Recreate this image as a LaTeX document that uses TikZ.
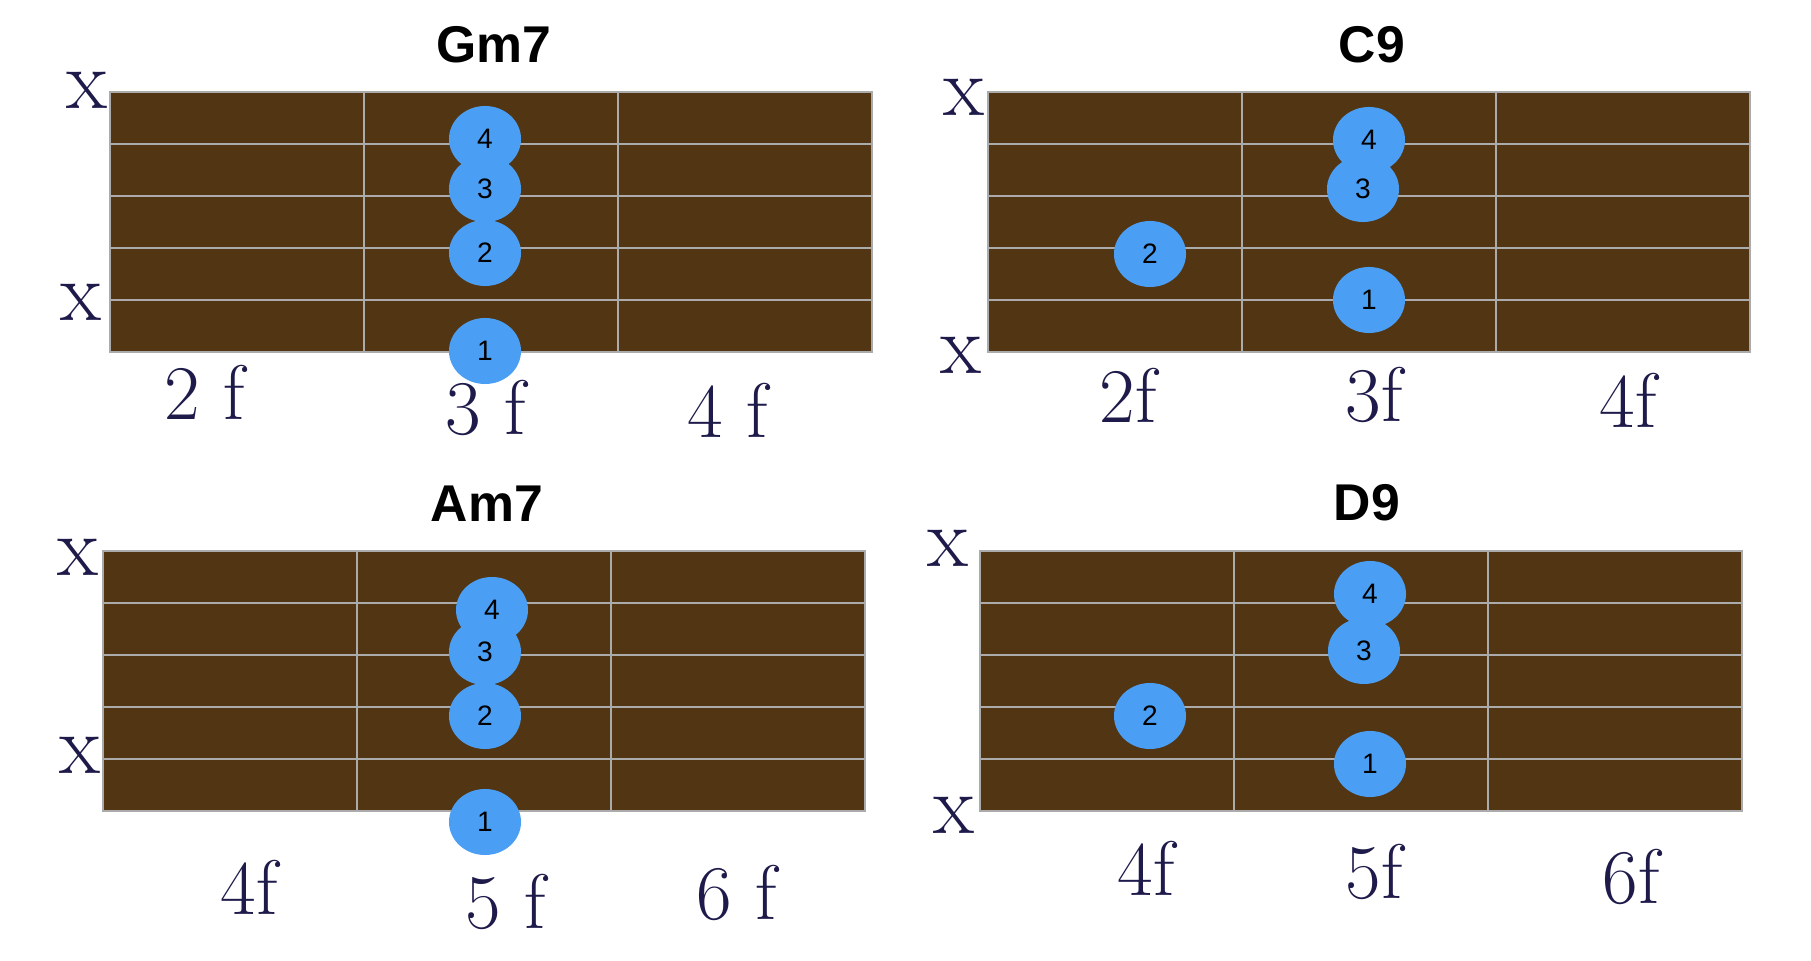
\documentclass[tikz,border=0pt]{standalone}
\usepackage{fontspec}
\newfontfamily\chordfont{Liberation Sans}
\usetikzlibrary{shapes.geometric}
\definecolor{neck}{HTML}{523512}
\definecolor{fretline}{HTML}{ABABAB}
\definecolor{fingerblue}{HTML}{4A9FF5}
\definecolor{penink}{HTML}{1E1B4B}
\tikzset{
  board/.style={fill=neck, draw=fretline, line width=0.45pt},
  wire/.style={draw=fretline, line width=0.45pt},
  finger/.style={ellipse, fill=fingerblue, minimum width=0.72cm, minimum height=0.66cm, inner sep=0pt, font=\chordfont\fontsize{8}{9}\selectfont},
  chordname/.style={font=\chordfont\bfseries\fontsize{14.7}{17}\selectfont},
  muted/.style={text=penink, font=\fontsize{24}{26}\selectfont},
  fretno/.style={text=penink, font=\fontsize{22}{24}\selectfont},
}
\begin{document}
\begin{tikzpicture}[x=0.01cm, y=-0.01cm]
	\useasboundingbox (0,0) rectangle (1811,961);
	
	% Gm7
	\begin{scope}[shift={(110,92)}]
		\draw[board] (0,0) rectangle (762,260);
		\foreach \s in {52,104,156,208} \draw[wire] (0,\s) -- (762,\s);
		\foreach \f in {254,508} \draw[wire] (\f,0) -- (\f,260);
		\node[chordname] (gmname) at (384,-47) {Gm7};
		\node[finger] (gm4) at (375,47) {4};
		\node[finger] (gm3) at (375,97) {3};
		\node[finger] (gm2) at (375,161) {2};
		\node[finger] (gm1) at (375,259) {1};
		\node[muted] (gmxa) at (-23,-2) {x};
		\node[muted] (gmxb) at (-29,210) {x};
		\node[fretno] (gmf2) at (95,300) {2 f};
		\node[fretno] (gmf3) at (376,316) {3 f};
		\node[fretno] (gmf4) at (618,318) {4 f};
	\end{scope}
	
	% C9
	\begin{scope}[shift={(988,92)}]
		\draw[board] (0,0) rectangle (762,260);
		\foreach \s in {52,104,156,208} \draw[wire] (0,\s) -- (762,\s);
		\foreach \f in {254,508} \draw[wire] (\f,0) -- (\f,260);
		\node[chordname] (cname) at (384,-47) {C9};
		\node[finger] (c4) at (381,48) {4};
		\node[finger] (c3) at (375,97) {3};
		\node[finger] (c2) at (162,162) {2};
		\node[finger] (c1) at (381,208) {1};
		\node[muted] (cxa) at (-24,5) {x};
		\node[muted] (cxb) at (-27,263) {x};
		\node[fretno] (cf2) at (140,303) {2f};
		\node[fretno] (cf3) at (386,303) {3f};
		\node[fretno] (cf4) at (640,308) {4f};
	\end{scope}
	
	% Am7
	\begin{scope}[shift={(103,551)}]
		\draw[board] (0,0) rectangle (762,260);
		\foreach \s in {52,104,156,208} \draw[wire] (0,\s) -- (762,\s);
		\foreach \f in {254,508} \draw[wire] (\f,0) -- (\f,260);
		\node[chordname] (amname) at (384,-47) {Am7};
		\node[finger] (am4) at (389,59) {4};
		\node[finger] (am3) at (382,101) {3};
		\node[finger] (am2) at (382,165) {2};
		\node[finger] (am1) at (382,271) {1};
		\node[muted] (amxa) at (-25,6) {x};
		\node[muted] (amxb) at (-23,204) {x};
		\node[fretno] (amf4) at (146,336) {4f};
		\node[fretno] (amf5) at (403,351) {5 f};
		\node[fretno] (amf6) at (634,342) {6 f};
	\end{scope}
	
	% D9
	\begin{scope}[shift={(980,551)}]
		\draw[board] (0,0) rectangle (762,260);
		\foreach \s in {52,104,156,208} \draw[wire] (0,\s) -- (762,\s);
		\foreach \f in {254,508} \draw[wire] (\f,0) -- (\f,260);
		\node[chordname] (dname) at (387,-48) {D9};
		\node[finger] (d4) at (390,43) {4};
		\node[finger] (d3) at (384,100) {3};
		\node[finger] (d2) at (170,165) {2};
		\node[finger] (d1) at (390,213) {1};
		\node[muted] (dxa) at (-32,-3) {x};
		\node[muted] (dxb) at (-26,264) {x};
		\node[fretno] (df4) at (166,317) {4f};
		\node[fretno] (df5) at (394,321) {5f};
		\node[fretno] (df6) at (651,326) {6f};
	\end{scope}
\end{tikzpicture}
\end{document}
